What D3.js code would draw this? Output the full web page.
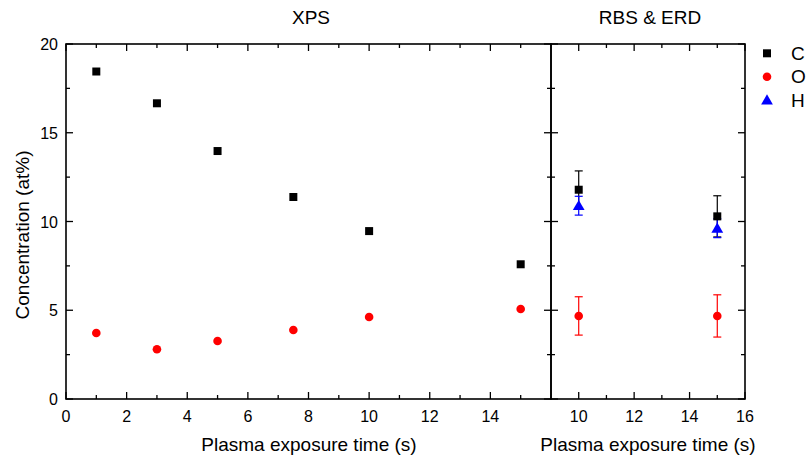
<!DOCTYPE html>
<html><head><meta charset="utf-8">
<script src="https://cdn.jsdelivr.net/npm/d3@7"></script>
<style>body{margin:0;background:#fff}svg{display:block;font-family:"Liberation Sans",Arial,sans-serif}</style>
</head><body><svg id="c" width="809" height="460"></svg>
<script>
// XPS panel data
const xpsTime = [1, 3, 5, 7.5, 10, 15];
const xpsC = [18.45, 16.66, 13.97, 11.38, 9.46, 7.59];
const xpsO = [3.72, 2.80, 3.27, 3.89, 4.62, 5.07];
// RBS & ERD panel data
const rbsTime = [10, 15];
const rbsC = [11.79, 10.29];
const rbsCerr = [1.06, 1.16];
const rbsO = [4.68, 4.68];
const rbsOerr = [1.08, 1.19];
const rbsH = [10.89, 9.62];
const rbsHerr = [0.53, 0.53];
const xTicksLeft = [0, 2, 4, 6, 8, 10, 12, 14];
const xTicksRight = [10, 12, 14, 16];
const yTicks = [0, 5, 10, 15, 20];
const legendItems = ["C", "O", "H"];

(function () {
const svg = d3.select("#c");
const yTop = 44, yBot = 399;
const y = d3.scaleLinear().domain([0, 20]).range([yBot, yTop]);
const xL = d3.scaleLinear().domain([0, 16]).range([66, 551]);
const xR = d3.scaleLinear().domain([9, 16]).range([551, 745]);
const colors = {C: "#000000", O: "#ff0000", H: "#0000ff"};

function ticksLines(g, orient, pos, scale, majors, minors, inward) {
  const maj = 7, min = 4;
  const draw = (vals, len) => vals.forEach(v => {
    const p = scale(v);
    if (orient === "v") g.append("line").attr("x1", pos).attr("x2", pos + inward * len).attr("y1", p).attr("y2", p);
    else g.append("line").attr("y1", pos).attr("y2", pos + inward * len).attr("x1", p).attr("x2", p);
  });
  draw(majors, maj); draw(minors, min);
}

const axG = svg.append("g").attr("stroke", "#000").attr("stroke-width", 1.3);
const yMin = d3.range(2.5, 20, 5);
ticksLines(axG, "v", 66, y, yTicks, yMin, 1);
ticksLines(axG, "v", 551, y, yTicks, yMin, -1);
ticksLines(axG, "v", 551, y, yTicks, yMin, 1);
ticksLines(axG, "v", 745, y, yTicks, yMin, -1);
const xLmin = d3.range(1, 16, 2);
ticksLines(axG, "h", yBot, xL, xTicksLeft, xLmin, -1);
ticksLines(axG, "h", yTop, xL, xTicksLeft, xLmin, 1);
const xRmin = [11, 13, 15];
ticksLines(axG, "h", yBot, xR, xTicksRight, xRmin, -1);
ticksLines(axG, "h", yTop, xR, xTicksRight, xRmin, 1);

svg.append("rect").attr("x", 66).attr("y", yTop).attr("width", 551 - 66).attr("height", yBot - yTop)
  .attr("fill", "none").attr("stroke", "#000").attr("stroke-width", 1.6);
svg.append("rect").attr("x", 551).attr("y", yTop).attr("width", 745 - 551).attr("height", yBot - yTop)
  .attr("fill", "none").attr("stroke", "#000").attr("stroke-width", 1.6);

const tl = svg.append("g").attr("font-size", 16).attr("fill", "#000");
yTicks.forEach(v => tl.append("text").attr("x", 58).attr("y", y(v) + 6).attr("text-anchor", "end").text(v));
xTicksLeft.forEach(v => tl.append("text").attr("x", xL(v)).attr("y", 421.5).attr("text-anchor", "middle").text(v));
xTicksRight.forEach(v => tl.append("text").attr("x", xR(v)).attr("y", 421.5).attr("text-anchor", "middle").text(v));

const tt = svg.append("g").attr("font-size", 19).attr("fill", "#000").attr("text-anchor", "middle");
tt.append("text").attr("x", 311).attr("y", 24).text("XPS");
tt.append("text").attr("x", 650).attr("y", 24).text("RBS & ERD");
tt.append("text").attr("x", 309).attr("y", 451).text("Plasma exposure time (s)");
tt.append("text").attr("x", 648).attr("y", 451).text("Plasma exposure time (s)");
tt.append("text").attr("transform", `translate(28.5,235) rotate(-90)`)
  .attr("textLength", 169).attr("lengthAdjust", "spacingAndGlyphs").text("Concentration (at%)");

const sqSym = d3.symbol().type(d3.symbolSquare).size(64);
const ciSym = d3.symbol().type(d3.symbolCircle).size(58);
const trSym = d3.symbol().type(d3.symbolTriangle).size(60);

const gL = svg.append("g");
gL.selectAll(".c").data(xpsTime).join("path").attr("d", sqSym)
  .attr("transform", (d, i) => `translate(${xL(d)},${y(xpsC[i])})`).attr("fill", colors.C);
gL.selectAll(".o").data(xpsTime).join("path").attr("d", ciSym)
  .attr("transform", (d, i) => `translate(${xL(d)},${y(xpsO[i])})`).attr("fill", colors.O);

const gR = svg.append("g");
function errBars(vals, errs, col) {
  rbsTime.forEach((t, i) => {
    const x = xR(t), y1 = y(vals[i] + errs[i]), y2 = y(vals[i] - errs[i]);
    gR.append("line").attr("x1", x).attr("x2", x).attr("y1", y1).attr("y2", y2).attr("stroke", col).attr("stroke-width", 1.2);
    [y1, y2].forEach(yy => gR.append("line").attr("x1", x - 4).attr("x2", x + 4).attr("y1", yy).attr("y2", yy).attr("stroke", col).attr("stroke-width", 1.2));
  });
}
errBars(rbsC, rbsCerr, colors.C);
errBars(rbsO, rbsOerr, colors.O);
errBars(rbsH, rbsHerr, colors.H);
rbsTime.forEach((t, i) => {
  gR.append("path").attr("d", sqSym).attr("transform", `translate(${xR(t)},${y(rbsC[i])})`).attr("fill", colors.C);
  gR.append("path").attr("d", ciSym).attr("transform", `translate(${xR(t)},${y(rbsO[i])})`).attr("fill", colors.O);
  gR.append("path").attr("d", trSym).attr("transform", `translate(${xR(t)},${y(rbsH[i]) + 1})`).attr("fill", colors.H);
});

const syms = {C: sqSym, O: ciSym, H: trSym};
const lg = svg.append("g");
legendItems.forEach((k, i) => {
  const yy = 53.3 + i * 23.4;
  lg.append("path").attr("d", syms[k]).attr("transform", `translate(767,${yy + (k === "H" ? 1 : 0)})`).attr("fill", colors[k]);
  lg.append("text").attr("x", 791).attr("y", yy + 6.7).attr("font-size", 19).text(k);
});
})();
</script></body></html>
